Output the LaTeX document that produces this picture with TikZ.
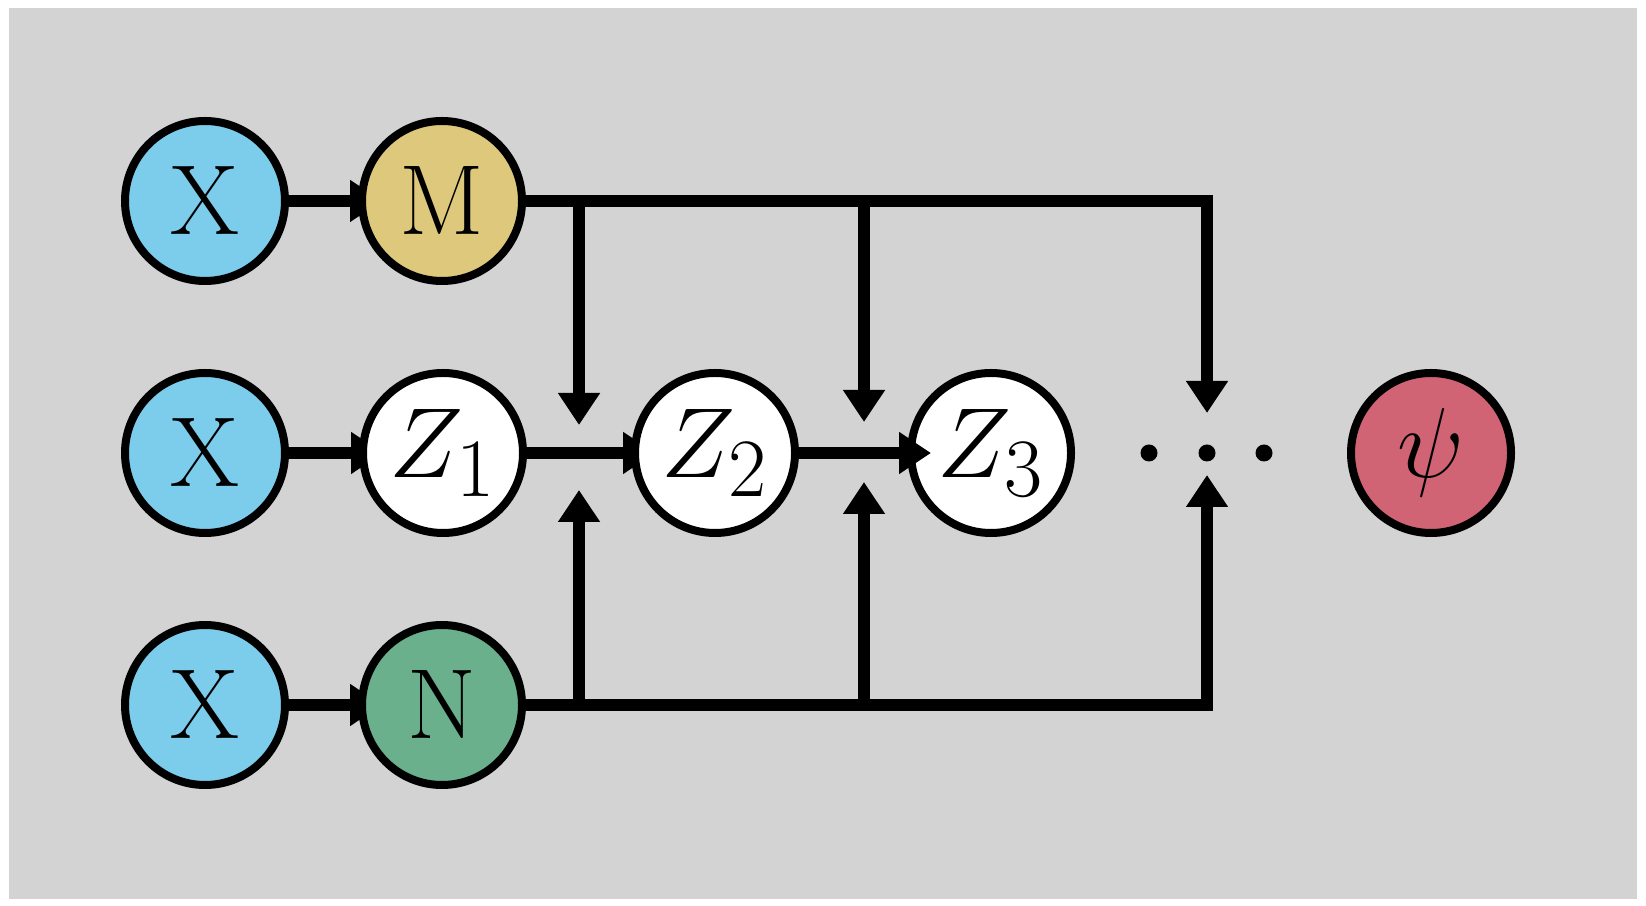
\documentclass[tikz,border=0pt]{standalone}
\usetikzlibrary{arrows.meta}
\definecolor{bggray}{RGB}{211,211,211}
\definecolor{xblue}{RGB}{124,204,235}
\definecolor{mgold}{RGB}{222,200,124}
\definecolor{ngreen}{RGB}{106,176,140}
\definecolor{psired}{RGB}{208,100,117}
\DeclareMathSizes{24.88}{24.88}{20.74}{17.28}
\DeclareMathSizes{29.86}{29.86}{24.88}{20.74}
\pgfdeclarelayer{bg}
\pgfsetlayers{bg,main}
\tikzset{
  var/.style={circle, draw=black, line width=2pt, minimum size=40pt, inner sep=0pt, font=\fontsize{24.88}{30}\selectfont},
  conn/.style={line width=3pt, line join=miter, -{Triangle[width=10pt,length=8pt]}},
  hid/.style={conn, shorten >=-6pt},
  dotnode/.style={circle, fill=black, minimum size=4.25pt, inner sep=0pt}
}
\begin{document}
\begin{tikzpicture}[x=0.25pt,y=-0.25pt]
\useasboundingbox (0,0) rectangle (1646,906);
% nodes
\node[var, fill=xblue] (x1) at (205,201) {X};
\node[var, fill=xblue] (x2) at (205,453) {X};
\node[var, fill=xblue] (x3) at (205,705) {X};
\node[var, fill=mgold] (m) at (442,201) {M};
\node[var, fill=white] (z1) at (443,453) {$Z_1$};
\node[var, fill=ngreen] (n) at (442,705) {N};
\node[var, fill=white] (z2) at (715,453) {$Z_2$};
\node[var, fill=white] (z3) at (991,453) {$Z_3$};
\node[var, fill=psired, font=\fontsize{29.86}{36}\selectfont] (psi) at (1431,453) {$\psi$};
\node[dotnode] (d1) at (1149,453) {};
\node[dotnode] (d2) at (1207,453) {};
\node[dotnode] (d3) at (1264,453) {};
% junction tips
\coordinate (ta1) at (579,425);
\coordinate (ta2) at (864,422);
\coordinate (ta3) at (1207,413);
\coordinate (tb1) at (579,490);
\coordinate (tb2) at (864,482);
\coordinate (tb3) at (1207,475);
\begin{pgfonlayer}{bg}
\fill[white] (0,0) rectangle (1646,906);
\fill[bggray] (9,8) rectangle (1637,899);
\draw[hid] (x1) -- (m);
\draw[hid] (x2) -- (z1);
\draw[hid] (x3) -- (n);
\draw[hid] (z1) -- (z2);
\draw[conn] (m.east) -| (ta3);
\draw[conn] (m.east -| ta1) -- (ta1);
\draw[conn] (m.east -| ta2) -- (ta2);
\draw[conn] (n.east) -| (tb3);
\draw[conn] (n.east -| tb1) -- (tb1);
\draw[conn] (n.east -| tb2) -- (tb2);
\end{pgfonlayer}
\draw[hid] (z2) -- (z3);
\end{tikzpicture}
\end{document}
